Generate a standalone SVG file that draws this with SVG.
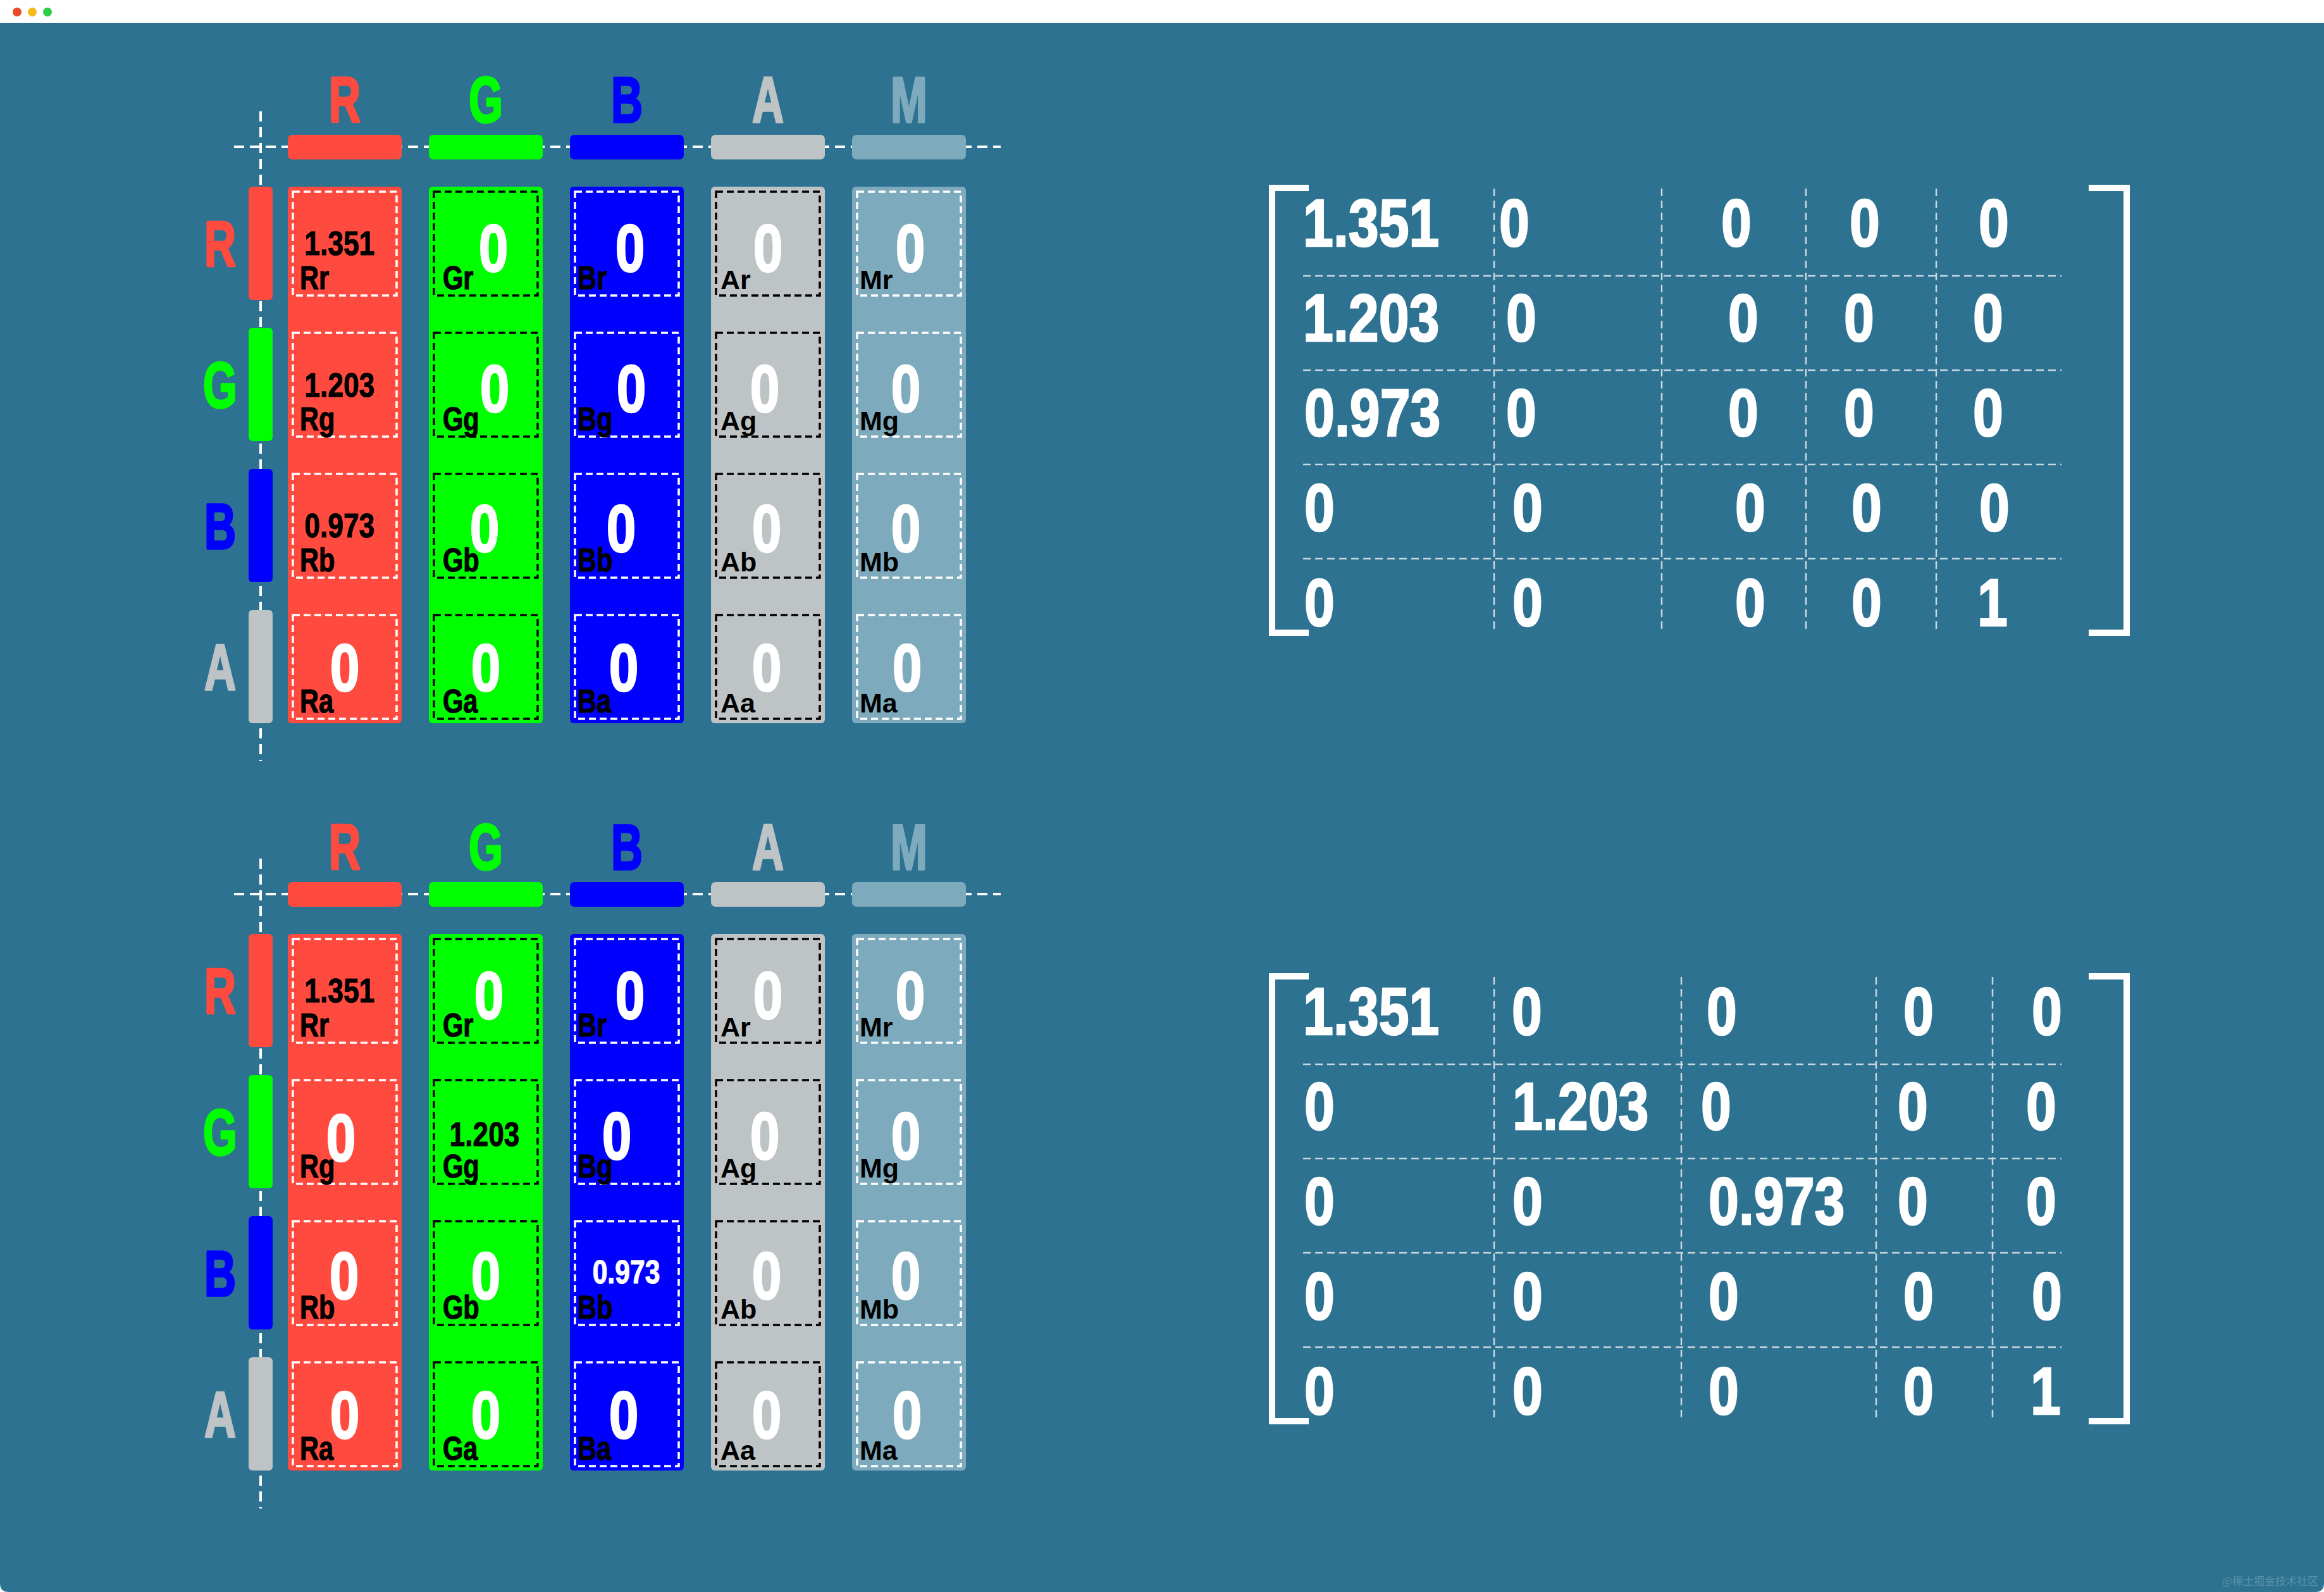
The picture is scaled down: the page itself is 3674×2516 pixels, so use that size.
<svg xmlns="http://www.w3.org/2000/svg" width="3674" height="2516" viewBox="0 0 3674 2516">
<style>
text{font-family:"Liberation Sans",Arial,"DejaVu Sans",sans-serif;font-weight:bold}
.hdr{font-size:102px;text-anchor:middle;stroke-width:3.5;stroke-linejoin:round}
.z{font-size:105px;fill:#fff;stroke:#fff;stroke-width:2.5;text-anchor:middle}
.num{font-size:54px;fill:#000;stroke:#000;stroke-width:1.2;text-anchor:middle}
.numw{font-size:52px;fill:#fff;stroke:#fff;stroke-width:1.2;text-anchor:middle}
.lbl{font-size:52px;fill:#000;stroke:#000;stroke-width:1.2}
.lblw{font-size:43px;fill:#000}
.mx{font-size:105px;fill:#fff;stroke:#fff;stroke-width:2.5}
.axis{stroke:#fff;stroke-width:4;stroke-dasharray:16 9;fill:none}
.dw{fill:none;stroke:#fff;stroke-width:3.5;stroke-dasharray:11 6}
.dk{fill:none;stroke:#000;stroke-width:3.5;stroke-dasharray:11 6}
.grid{stroke:#c9d7de;stroke-width:2.5;stroke-dasharray:12 7;fill:none}
.brk{fill:none;stroke:#fff;stroke-width:10}
.cR{fill:#ff4b3f}.cG{fill:#00ff00}.cB{fill:#0000ff}.cA{fill:#bec3c5}.cM{fill:#7eaabd}
.tR{fill:#ff4b3f;stroke:#ff4b3f}.tG{fill:#00ff00;stroke:#00ff00}.tB{fill:#0000ff;stroke:#0000ff}.tA{fill:#bec3c5;stroke:#bec3c5}.tM{fill:#7eaabd;stroke:#7eaabd}
</style>
<rect x="0" y="0" width="3674" height="2516" fill="#ffffff"/>
<path d="M0,36 H3674 V2502 Q3674,2516 3660,2516 H14 Q0,2516 0,2502 Z" fill="#2d7291"/>
<g id="window-controls">
<circle cx="27" cy="19" r="7" fill="#ec4a2c"/>
<circle cx="51" cy="19" r="7" fill="#f6b91d"/>
<circle cx="75" cy="19" r="7" fill="#29cf4a"/>
</g>

<!-- ================= UPPER GRID ================= -->
<g id="grid1">
<g id="connectors-grid1">
<line class="axis" x1="370" y1="232" x2="1582" y2="232"/>
<line class="axis" x1="412" y1="176" x2="412" y2="1203"/>
</g>
<g id="g1-col-headers">
<g id="g1-hR"><text class="hdr tR" transform="translate(545,193) scale(0.68,1)">R</text><rect class="cR" x="455" y="213" width="180" height="39" rx="7"/></g>
<g id="g1-hG"><text class="hdr tG" transform="translate(768,193) scale(0.68,1)">G</text><rect class="cG" x="678" y="213" width="180" height="39" rx="7"/></g>
<g id="g1-hB"><text class="hdr tB" transform="translate(991,193) scale(0.68,1)">B</text><rect class="cB" x="901" y="213" width="180" height="39" rx="7"/></g>
<g id="g1-hA"><text class="hdr tA" transform="translate(1214,193) scale(0.68,1)">A</text><rect class="cA" x="1124" y="213" width="180" height="39" rx="7"/></g>
<g id="g1-hM"><text class="hdr tM" transform="translate(1437,193) scale(0.68,1)">M</text><rect class="cM" x="1347" y="213" width="180" height="39" rx="7"/></g>
</g>
<g id="g1-row-headers">
<g id="g1-rR"><text class="hdr tR" transform="translate(348,421) scale(0.68,1)">R</text><rect class="cR" x="393" y="295" width="38" height="179" rx="6"/></g>
<g id="g1-rG"><text class="hdr tG" transform="translate(348,644) scale(0.68,1)">G</text><rect class="cG" x="393" y="518" width="38" height="179" rx="6"/></g>
<g id="g1-rB"><text class="hdr tB" transform="translate(348,867) scale(0.68,1)">B</text><rect class="cB" x="393" y="741" width="38" height="179" rx="6"/></g>
<g id="g1-rA"><text class="hdr tA" transform="translate(348,1090) scale(0.68,1)">A</text><rect class="cA" x="393" y="964" width="38" height="179" rx="6"/></g>
</g>
<g id="g1-columns">
<rect class="cR" x="455" y="295" width="180" height="848" rx="6"/>
<rect class="cG" x="678" y="295" width="180" height="848" rx="6"/>
<rect class="cB" x="901" y="295" width="180" height="848" rx="6"/>
<rect class="cA" x="1124" y="295" width="180" height="848" rx="6"/>
<rect class="cM" x="1347" y="295" width="180" height="848" rx="6"/>
</g>
<g id="g1-Rr"><rect class="dw" x="463" y="303" width="164" height="164"/><text class="num" transform="translate(537,403) scale(0.82,1)">1.351</text><text class="lbl" transform="translate(474,457) scale(0.8,1)">Rr</text></g>
<g id="g1-Rg"><rect class="dw" x="463" y="526" width="164" height="164"/><text class="num" transform="translate(537,627) scale(0.82,1)">1.203</text><text class="lbl" transform="translate(474,680) scale(0.8,1)">Rg</text></g>
<g id="g1-Rb"><rect class="dw" x="463" y="749" width="164" height="164"/><text class="num" transform="translate(537,849) scale(0.82,1)">0.973</text><text class="lbl" transform="translate(474,903) scale(0.8,1)">Rb</text></g>
<g id="g1-Ra"><rect class="dw" x="463" y="972" width="164" height="164"/><text class="z" transform="translate(545,1092) scale(0.8,1)">0</text><text class="lbl" transform="translate(474,1126) scale(0.8,1)">Ra</text></g>

<g id="g1-Gr"><rect class="dk" x="686" y="303" width="164" height="164"/><text class="z" transform="translate(780,429) scale(0.8,1)">0</text><text class="lbl" transform="translate(700,457) scale(0.8,1)">Gr</text></g>
<g id="g1-Gg"><rect class="dk" x="686" y="526" width="164" height="164"/><text class="z" transform="translate(782,651) scale(0.8,1)">0</text><text class="lbl" transform="translate(700,680) scale(0.8,1)">Gg</text></g>
<g id="g1-Gb"><rect class="dk" x="686" y="749" width="164" height="164"/><text class="z" transform="translate(766,872) scale(0.8,1)">0</text><text class="lbl" transform="translate(700,903) scale(0.8,1)">Gb</text></g>
<g id="g1-Ga"><rect class="dk" x="686" y="972" width="164" height="164"/><text class="z" transform="translate(768,1092) scale(0.8,1)">0</text><text class="lbl" transform="translate(700,1126) scale(0.8,1)">Ga</text></g>

<g id="g1-Br"><rect class="dw" x="909" y="303" width="164" height="164"/><text class="z" transform="translate(996,429) scale(0.8,1)">0</text><text class="lbl" transform="translate(913,457) scale(0.8,1)">Br</text></g>
<g id="g1-Bg"><rect class="dw" x="909" y="526" width="164" height="164"/><text class="z" transform="translate(998,651) scale(0.8,1)">0</text><text class="lbl" transform="translate(913,680) scale(0.8,1)">Bg</text></g>
<g id="g1-Bb"><rect class="dw" x="909" y="749" width="164" height="164"/><text class="z" transform="translate(982,872) scale(0.8,1)">0</text><text class="lbl" transform="translate(913,903) scale(0.8,1)">Bb</text></g>
<g id="g1-Ba"><rect class="dw" x="909" y="972" width="164" height="164"/><text class="z" transform="translate(986,1092) scale(0.8,1)">0</text><text class="lbl" transform="translate(913,1126) scale(0.8,1)">Ba</text></g>

<g id="g1-Ar"><rect class="dk" x="1132" y="303" width="164" height="164"/><text class="z" transform="translate(1214,429) scale(0.8,1)">0</text><text class="lblw" x="1139" y="457">Ar</text></g>
<g id="g1-Ag"><rect class="dk" x="1132" y="526" width="164" height="164"/><text class="z" transform="translate(1209,651) scale(0.8,1)">0</text><text class="lblw" x="1139" y="680">Ag</text></g>
<g id="g1-Ab"><rect class="dk" x="1132" y="749" width="164" height="164"/><text class="z" transform="translate(1212,872) scale(0.8,1)">0</text><text class="lblw" x="1139" y="903">Ab</text></g>
<g id="g1-Aa"><rect class="dk" x="1132" y="972" width="164" height="164"/><text class="z" transform="translate(1212,1092) scale(0.8,1)">0</text><text class="lblw" x="1139" y="1126">Aa</text></g>

<g id="g1-Mr"><rect class="dw" x="1355" y="303" width="164" height="164"/><text class="z" transform="translate(1439,429) scale(0.8,1)">0</text><text class="lblw" x="1359" y="457">Mr</text></g>
<g id="g1-Mg"><rect class="dw" x="1355" y="526" width="164" height="164"/><text class="z" transform="translate(1432,651) scale(0.8,1)">0</text><text class="lblw" x="1359" y="680">Mg</text></g>
<g id="g1-Mb"><rect class="dw" x="1355" y="749" width="164" height="164"/><text class="z" transform="translate(1432,872) scale(0.8,1)">0</text><text class="lblw" x="1359" y="903">Mb</text></g>
<g id="g1-Ma"><rect class="dw" x="1355" y="972" width="164" height="164"/><text class="z" transform="translate(1434,1092) scale(0.8,1)">0</text><text class="lblw" x="1359" y="1126">Ma</text></g>
</g>

<!-- ================= LOWER GRID ================= -->
<g id="grid2" transform="translate(0,1181)">
<g id="connectors-grid2">
<line class="axis" x1="370" y1="232" x2="1582" y2="232"/>
<line class="axis" x1="412" y1="176" x2="412" y2="1203"/>
</g>
<g id="g2-col-headers">
<g id="g2-hR"><text class="hdr tR" transform="translate(545,193) scale(0.68,1)">R</text><rect class="cR" x="455" y="213" width="180" height="39" rx="7"/></g>
<g id="g2-hG"><text class="hdr tG" transform="translate(768,193) scale(0.68,1)">G</text><rect class="cG" x="678" y="213" width="180" height="39" rx="7"/></g>
<g id="g2-hB"><text class="hdr tB" transform="translate(991,193) scale(0.68,1)">B</text><rect class="cB" x="901" y="213" width="180" height="39" rx="7"/></g>
<g id="g2-hA"><text class="hdr tA" transform="translate(1214,193) scale(0.68,1)">A</text><rect class="cA" x="1124" y="213" width="180" height="39" rx="7"/></g>
<g id="g2-hM"><text class="hdr tM" transform="translate(1437,193) scale(0.68,1)">M</text><rect class="cM" x="1347" y="213" width="180" height="39" rx="7"/></g>
</g>
<g id="g2-row-headers">
<g id="g2-rR"><text class="hdr tR" transform="translate(348,421) scale(0.68,1)">R</text><rect class="cR" x="393" y="295" width="38" height="179" rx="6"/></g>
<g id="g2-rG"><text class="hdr tG" transform="translate(348,644) scale(0.68,1)">G</text><rect class="cG" x="393" y="518" width="38" height="179" rx="6"/></g>
<g id="g2-rB"><text class="hdr tB" transform="translate(348,867) scale(0.68,1)">B</text><rect class="cB" x="393" y="741" width="38" height="179" rx="6"/></g>
<g id="g2-rA"><text class="hdr tA" transform="translate(348,1090) scale(0.68,1)">A</text><rect class="cA" x="393" y="964" width="38" height="179" rx="6"/></g>
</g>
<g id="g2-columns">
<rect class="cR" x="455" y="295" width="180" height="848" rx="6"/>
<rect class="cG" x="678" y="295" width="180" height="848" rx="6"/>
<rect class="cB" x="901" y="295" width="180" height="848" rx="6"/>
<rect class="cA" x="1124" y="295" width="180" height="848" rx="6"/>
<rect class="cM" x="1347" y="295" width="180" height="848" rx="6"/>
</g>
<g id="g2-Rr"><rect class="dw" x="463" y="303" width="164" height="164"/><text class="num" transform="translate(537,403) scale(0.82,1)">1.351</text><text class="lbl" transform="translate(474,457) scale(0.8,1)">Rr</text></g>
<g id="g2-Rg"><rect class="dw" x="463" y="526" width="164" height="164"/><text class="z" transform="translate(539,654) scale(0.8,1)">0</text><text class="lbl" transform="translate(474,680) scale(0.8,1)">Rg</text></g>
<g id="g2-Rb"><rect class="dw" x="463" y="749" width="164" height="164"/><text class="z" transform="translate(544,872) scale(0.8,1)">0</text><text class="lbl" transform="translate(474,903) scale(0.8,1)">Rb</text></g>
<g id="g2-Ra"><rect class="dw" x="463" y="972" width="164" height="164"/><text class="z" transform="translate(545,1092) scale(0.8,1)">0</text><text class="lbl" transform="translate(474,1126) scale(0.8,1)">Ra</text></g>

<g id="g2-Gr"><rect class="dk" x="686" y="303" width="164" height="164"/><text class="z" transform="translate(773,429) scale(0.8,1)">0</text><text class="lbl" transform="translate(700,457) scale(0.8,1)">Gr</text></g>
<g id="g2-Gg"><rect class="dk" x="686" y="526" width="164" height="164"/><text class="num" transform="translate(766,630) scale(0.82,1)">1.203</text><text class="lbl" transform="translate(700,680) scale(0.8,1)">Gg</text></g>
<g id="g2-Gb"><rect class="dk" x="686" y="749" width="164" height="164"/><text class="z" transform="translate(768,872) scale(0.8,1)">0</text><text class="lbl" transform="translate(700,903) scale(0.8,1)">Gb</text></g>
<g id="g2-Ga"><rect class="dk" x="686" y="972" width="164" height="164"/><text class="z" transform="translate(768,1092) scale(0.8,1)">0</text><text class="lbl" transform="translate(700,1126) scale(0.8,1)">Ga</text></g>

<g id="g2-Br"><rect class="dw" x="909" y="303" width="164" height="164"/><text class="z" transform="translate(996,429) scale(0.8,1)">0</text><text class="lbl" transform="translate(913,457) scale(0.8,1)">Br</text></g>
<g id="g2-Bg"><rect class="dw" x="909" y="526" width="164" height="164"/><text class="z" transform="translate(975,651) scale(0.8,1)">0</text><text class="lbl" transform="translate(913,680) scale(0.8,1)">Bg</text></g>
<g id="g2-Bb"><rect class="dw" x="909" y="749" width="164" height="164"/><text class="numw" transform="translate(990,847) scale(0.82,1)">0.973</text><text class="lbl" transform="translate(913,903) scale(0.8,1)">Bb</text></g>
<g id="g2-Ba"><rect class="dw" x="909" y="972" width="164" height="164"/><text class="z" transform="translate(986,1092) scale(0.8,1)">0</text><text class="lbl" transform="translate(913,1126) scale(0.8,1)">Ba</text></g>

<g id="g2-Ar"><rect class="dk" x="1132" y="303" width="164" height="164"/><text class="z" transform="translate(1214,429) scale(0.8,1)">0</text><text class="lblw" x="1139" y="457">Ar</text></g>
<g id="g2-Ag"><rect class="dk" x="1132" y="526" width="164" height="164"/><text class="z" transform="translate(1209,651) scale(0.8,1)">0</text><text class="lblw" x="1139" y="680">Ag</text></g>
<g id="g2-Ab"><rect class="dk" x="1132" y="749" width="164" height="164"/><text class="z" transform="translate(1212,872) scale(0.8,1)">0</text><text class="lblw" x="1139" y="903">Ab</text></g>
<g id="g2-Aa"><rect class="dk" x="1132" y="972" width="164" height="164"/><text class="z" transform="translate(1212,1092) scale(0.8,1)">0</text><text class="lblw" x="1139" y="1126">Aa</text></g>

<g id="g2-Mr"><rect class="dw" x="1355" y="303" width="164" height="164"/><text class="z" transform="translate(1439,429) scale(0.8,1)">0</text><text class="lblw" x="1359" y="457">Mr</text></g>
<g id="g2-Mg"><rect class="dw" x="1355" y="526" width="164" height="164"/><text class="z" transform="translate(1432,651) scale(0.8,1)">0</text><text class="lblw" x="1359" y="680">Mg</text></g>
<g id="g2-Mb"><rect class="dw" x="1355" y="749" width="164" height="164"/><text class="z" transform="translate(1432,872) scale(0.8,1)">0</text><text class="lblw" x="1359" y="903">Mb</text></g>
<g id="g2-Ma"><rect class="dw" x="1355" y="972" width="164" height="164"/><text class="z" transform="translate(1434,1092) scale(0.8,1)">0</text><text class="lblw" x="1359" y="1126">Ma</text></g>
</g>

<!-- ================= UPPER MATRIX ================= -->
<g id="matrix1">
<g id="m1-lines">
<line class="grid" x1="2060" y1="436" x2="3259" y2="436"/>
<line class="grid" x1="2060" y1="585" x2="3259" y2="585"/>
<line class="grid" x1="2060" y1="734" x2="3259" y2="734"/>
<line class="grid" x1="2060" y1="883" x2="3259" y2="883"/>
<line class="grid" x1="2362" y1="298" x2="2362" y2="997"/>
<line class="grid" x1="2627" y1="298" x2="2627" y2="997"/>
<line class="grid" x1="2855" y1="298" x2="2855" y2="997"/>
<line class="grid" x1="3061" y1="298" x2="3061" y2="997"/>
</g>
<g id="m1-brackets">
<path class="brk" d="M2069,297 H2011 V1000 H2069"/>
<path class="brk" d="M3302,297 H3362 V1000 H3302"/>
</g>
<g id="m1-values">
<text class="mx" transform="translate(2060,389) scale(0.82,1)">1.351</text><text class="mx" transform="translate(2370,389) scale(0.82,1)">0</text><text class="mx" transform="translate(2721,389) scale(0.82,1)">0</text><text class="mx" transform="translate(2924,389) scale(0.82,1)">0</text><text class="mx" transform="translate(3128,389) scale(0.82,1)">0</text>
<text class="mx" transform="translate(2060,539) scale(0.82,1)">1.203</text><text class="mx" transform="translate(2381,539) scale(0.82,1)">0</text><text class="mx" transform="translate(2732,539) scale(0.82,1)">0</text><text class="mx" transform="translate(2915,539) scale(0.82,1)">0</text><text class="mx" transform="translate(3119,539) scale(0.82,1)">0</text>
<text class="mx" transform="translate(2062,689) scale(0.82,1)">0.973</text><text class="mx" transform="translate(2381,689) scale(0.82,1)">0</text><text class="mx" transform="translate(2732,689) scale(0.82,1)">0</text><text class="mx" transform="translate(2915,689) scale(0.82,1)">0</text><text class="mx" transform="translate(3119,689) scale(0.82,1)">0</text>
<text class="mx" transform="translate(2062,839) scale(0.82,1)">0</text><text class="mx" transform="translate(2391,839) scale(0.82,1)">0</text><text class="mx" transform="translate(2743,839) scale(0.82,1)">0</text><text class="mx" transform="translate(2927,839) scale(0.82,1)">0</text><text class="mx" transform="translate(3129,839) scale(0.82,1)">0</text>
<text class="mx" transform="translate(2062,989) scale(0.82,1)">0</text><text class="mx" transform="translate(2391,989) scale(0.82,1)">0</text><text class="mx" transform="translate(2743,989) scale(0.82,1)">0</text><text class="mx" transform="translate(2927,989) scale(0.82,1)">0</text><text class="mx" transform="translate(3126,989) scale(0.82,1)">1</text>
</g>
</g>

<!-- ================= LOWER MATRIX ================= -->
<g id="matrix2">
<g id="m2-lines">
<line class="grid" x1="2060" y1="1682" x2="3259" y2="1682"/>
<line class="grid" x1="2060" y1="1831" x2="3259" y2="1831"/>
<line class="grid" x1="2060" y1="1980" x2="3259" y2="1980"/>
<line class="grid" x1="2060" y1="2129" x2="3259" y2="2129"/>
<line class="grid" x1="2362" y1="1544" x2="2362" y2="2243"/>
<line class="grid" x1="2658" y1="1544" x2="2658" y2="2243"/>
<line class="grid" x1="2966" y1="1544" x2="2966" y2="2243"/>
<line class="grid" x1="3150" y1="1544" x2="3150" y2="2243"/>
</g>
<g id="m2-brackets">
<path class="brk" d="M2069,1543 H2011 V2246 H2069"/>
<path class="brk" d="M3302,1543 H3362 V2246 H3302"/>
</g>
<g id="m2-values">
<text class="mx" transform="translate(2060,1635) scale(0.82,1)">1.351</text><text class="mx" transform="translate(2390,1635) scale(0.82,1)">0</text><text class="mx" transform="translate(2698,1635) scale(0.82,1)">0</text><text class="mx" transform="translate(3009,1635) scale(0.82,1)">0</text><text class="mx" transform="translate(3212,1635) scale(0.82,1)">0</text>
<text class="mx" transform="translate(2062,1785) scale(0.82,1)">0</text><text class="mx" transform="translate(2391,1785) scale(0.82,1)">1.203</text><text class="mx" transform="translate(2689,1785) scale(0.82,1)">0</text><text class="mx" transform="translate(3000,1785) scale(0.82,1)">0</text><text class="mx" transform="translate(3203,1785) scale(0.82,1)">0</text>
<text class="mx" transform="translate(2062,1935) scale(0.82,1)">0</text><text class="mx" transform="translate(2391,1935) scale(0.82,1)">0</text><text class="mx" transform="translate(2701,1935) scale(0.82,1)">0.973</text><text class="mx" transform="translate(3000,1935) scale(0.82,1)">0</text><text class="mx" transform="translate(3203,1935) scale(0.82,1)">0</text>
<text class="mx" transform="translate(2062,2085) scale(0.82,1)">0</text><text class="mx" transform="translate(2391,2085) scale(0.82,1)">0</text><text class="mx" transform="translate(2701,2085) scale(0.82,1)">0</text><text class="mx" transform="translate(3009,2085) scale(0.82,1)">0</text><text class="mx" transform="translate(3212,2085) scale(0.82,1)">0</text>
<text class="mx" transform="translate(2062,2235) scale(0.82,1)">0</text><text class="mx" transform="translate(2391,2235) scale(0.82,1)">0</text><text class="mx" transform="translate(2701,2235) scale(0.82,1)">0</text><text class="mx" transform="translate(3009,2235) scale(0.82,1)">0</text><text class="mx" transform="translate(3210,2235) scale(0.82,1)">1</text>
</g>
</g>

<text id="watermark" x="3665" y="2505" text-anchor="end" style="font-family:'Noto Sans CJK SC',sans-serif;font-weight:normal" font-size="17" fill="#ffffff" fill-opacity="0.22">@稀土掘金技术社区</text>
</svg>
